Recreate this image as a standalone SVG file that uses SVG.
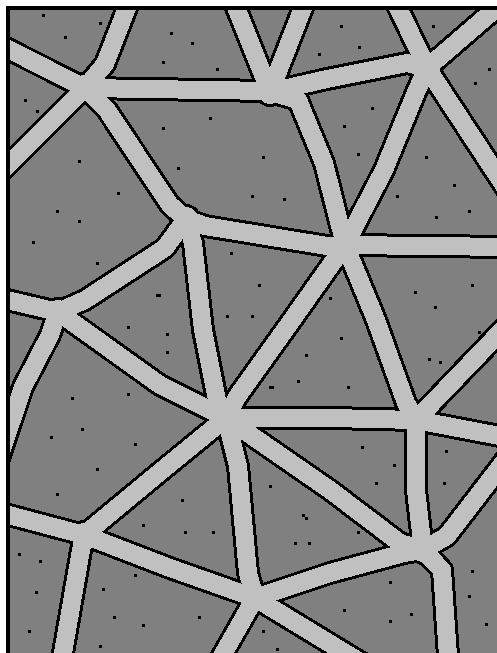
<svg xmlns="http://www.w3.org/2000/svg" xmlns:xlink="http://www.w3.org/1999/xlink" width="497" height="653" viewBox="0 0 497 653" shape-rendering="crispEdges">
<style>
.edge{fill:none;stroke:#000;stroke-width:24;stroke-linejoin:round;stroke-linecap:butt}
.road{fill:none;stroke:#c0c0c0;stroke-width:18;stroke-linejoin:round;stroke-linecap:butt}
.dot{fill:#000}
</style>
<defs>
<clipPath id="area"><rect x="10" y="10" width="487" height="643"/></clipPath>
<g id="net">
<path d="M85,88 L-10,40"/>
<path d="M85,88 L105,64 L132,-5"/>
<path d="M85,88 L-10,183"/>
<path d="M85,88 L270,91"/>
<path d="M85,88 L107,110 L140,160 L170,205 L186,219"/>
<path d="M270,92 L231,-5"/>
<path d="M270,92 L308,-5"/>
<path d="M270,92 L327,79 L407,63 L427,68"/>
<path d="M270,92 L298,100 L324,163 L345,245"/>
<path d="M186,219 L205,226 L327,246 L345,245"/>
<path d="M186,219 L165,248 L85,300 L58,312"/>
<path d="M186,219 L193,243 L203,330 L217,400 L226,418"/>
<path d="M427,68 L392,-5"/>
<path d="M427,68 L515,-8"/>
<path d="M427,68 L417,90 L384,170 L345,245"/>
<path d="M427,68 L520,210"/>
<path d="M345,245 L510,247"/>
<path d="M345,245 L376,320 L406,403 L416,420"/>
<path d="M345,245 L292,320 L237,397 L226,418"/>
<path d="M58,312 L-10,296"/>
<path d="M58,312 L50,335 L23,387 L-5,470"/>
<path d="M58,312 L160,385 L226,418"/>
<path d="M226,418 L330,418 L416,420"/>
<path d="M226,418 L330,490 L400,543 L423,550"/>
<path d="M226,418 L160,472 L84,535"/>
<path d="M226,418 L238,466 L248,573 L255,598"/>
<path d="M416,420 L510,322"/>
<path d="M416,420 L510,438"/>
<path d="M416,420 L416,490 L423,550"/>
<path d="M255,598 L170,568 L84,535"/>
<path d="M255,598 L330,573 L404,553 L423,550"/>
<path d="M255,598 L214,670"/>
<path d="M255,598 L370,668"/>
<path d="M423,550 L442,570 L449,670"/>
<path d="M423,550 L447,536 L520,441"/>
<path d="M84,535 L-10,510"/>
<path d="M84,535 L80,556 L60,670"/>
</g>
<g id="nodes">
<circle cx="85" cy="88" r="13"/><circle cx="270" cy="92" r="12"/><circle cx="186" cy="219" r="12"/><circle cx="427" cy="68" r="13"/>
<circle cx="345" cy="245" r="13"/><circle cx="58" cy="312" r="12"/><circle cx="226" cy="418" r="13"/><circle cx="416" cy="420" r="13"/>
<circle cx="255" cy="598" r="13"/><circle cx="423" cy="550" r="12"/><circle cx="84" cy="535" r="12"/>
</g>
</defs>
<rect x="0" y="0" width="497" height="653" fill="#fff"/>
<rect x="10" y="10" width="487" height="643" fill="#808080"/>
<g clip-path="url(#area)">
<g id="road-edges" class="edge"><use xlink:href="#net"/></g>
<g id="junction-edges" fill="#000" stroke="#000" stroke-width="6"><use xlink:href="#nodes"/></g>
<g id="roads" class="road"><use xlink:href="#net"/></g>
<g id="junctions" fill="#c0c0c0"><use xlink:href="#nodes"/></g>
<g id="dots" class="dot">
<rect x="42" y="14" width="3" height="3"/><rect x="99" y="22" width="3" height="3"/><rect x="64" y="36" width="3" height="3"/>
<rect x="162" y="61" width="3" height="3"/><rect x="57" y="85" width="3" height="3"/><rect x="24" y="99" width="3" height="3"/>
<rect x="36" y="110" width="3" height="3"/><rect x="162" y="127" width="3" height="3"/><rect x="78" y="160" width="3" height="3"/>
<rect x="170" y="32" width="3" height="3"/><rect x="191" y="42" width="3" height="3"/><rect x="216" y="68" width="3" height="3"/>
<rect x="318" y="53" width="3" height="3"/><rect x="209" y="117" width="3" height="3"/><rect x="177" y="167" width="3" height="3"/>
<rect x="262" y="156" width="3" height="3"/><rect x="340" y="25" width="3" height="3"/><rect x="432" y="25" width="3" height="3"/>
<rect x="358" y="46" width="3" height="3"/><rect x="488" y="68" width="3" height="3"/><rect x="474" y="82" width="3" height="3"/>
<rect x="371" y="107" width="3" height="3"/><rect x="343" y="125" width="3" height="3"/><rect x="357" y="153" width="3" height="3"/>
<rect x="425" y="156" width="3" height="3"/><rect x="117" y="192" width="3" height="3"/><rect x="56" y="210" width="3" height="3"/>
<rect x="78" y="220" width="3" height="3"/><rect x="32" y="241" width="3" height="3"/><rect x="96" y="262" width="3" height="3"/>
<rect x="156" y="294" width="5" height="3"/><rect x="127" y="326" width="3" height="3"/><rect x="251" y="195" width="3" height="3"/>
<rect x="283" y="198" width="3" height="3"/><rect x="230" y="252" width="3" height="3"/><rect x="258" y="284" width="3" height="3"/>
<rect x="226" y="315" width="3" height="3"/><rect x="251" y="315" width="3" height="3"/><rect x="453" y="184" width="3" height="3"/>
<rect x="396" y="195" width="3" height="3"/><rect x="468" y="210" width="3" height="3"/><rect x="435" y="216" width="3" height="3"/>
<rect x="471" y="284" width="3" height="3"/><rect x="414" y="291" width="3" height="3"/><rect x="434" y="306" width="3" height="3"/>
<rect x="329" y="297" width="3" height="3"/><rect x="166" y="333" width="3" height="3"/><rect x="166" y="351" width="3" height="3"/>
<rect x="71" y="397" width="3" height="3"/><rect x="127" y="393" width="3" height="3"/><rect x="81" y="428" width="3" height="3"/>
<rect x="50" y="436" width="3" height="3"/><rect x="134" y="443" width="3" height="3"/><rect x="96" y="468" width="3" height="3"/>
<rect x="305" y="354" width="3" height="3"/><rect x="297" y="380" width="3" height="3"/><rect x="269" y="386" width="5" height="3"/>
<rect x="269" y="485" width="3" height="3"/><rect x="340" y="337" width="3" height="3"/><rect x="478" y="331" width="3" height="3"/>
<rect x="428" y="358" width="3" height="3"/><rect x="439" y="361" width="3" height="3"/><rect x="347" y="386" width="3" height="3"/>
<rect x="361" y="446" width="3" height="3"/><rect x="445" y="450" width="3" height="3"/><rect x="393" y="464" width="3" height="3"/>
<rect x="375" y="482" width="3" height="3"/><rect x="443" y="482" width="3" height="3"/><rect x="56" y="493" width="3" height="3"/>
<rect x="142" y="524" width="3" height="3"/><rect x="18" y="553" width="3" height="3"/><rect x="39" y="560" width="3" height="3"/>
<rect x="134" y="574" width="3" height="3"/><rect x="35" y="591" width="3" height="3"/><rect x="102" y="588" width="3" height="3"/>
<rect x="113" y="616" width="3" height="3"/><rect x="142" y="624" width="3" height="3"/><rect x="28" y="630" width="3" height="3"/>
<rect x="99" y="645" width="3" height="3"/><rect x="181" y="499" width="3" height="3"/><rect x="302" y="514" width="3" height="3"/>
<rect x="305" y="517" width="3" height="3"/><rect x="184" y="531" width="3" height="3"/><rect x="212" y="531" width="3" height="3"/>
<rect x="294" y="542" width="3" height="3"/><rect x="308" y="542" width="3" height="3"/><rect x="198" y="616" width="3" height="3"/>
<rect x="262" y="630" width="3" height="3"/><rect x="276" y="648" width="3" height="3"/><rect x="357" y="531" width="3" height="3"/>
<rect x="471" y="570" width="3" height="3"/><rect x="389" y="581" width="3" height="3"/><rect x="468" y="595" width="3" height="3"/>
<rect x="343" y="609" width="3" height="3"/><rect x="410" y="613" width="3" height="3"/><rect x="389" y="620" width="3" height="3"/>
<rect x="485" y="623" width="3" height="3"/>
</g>
</g>
<g id="frame" fill="#000">
<rect x="6" y="6" width="491" height="4"/>
<rect x="6" y="6" width="4" height="647"/>
</g>
</svg>
